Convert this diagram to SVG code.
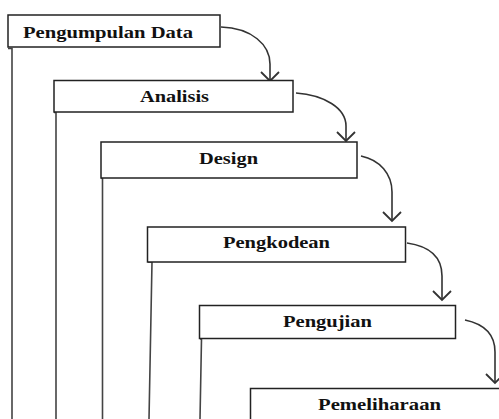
<svg xmlns="http://www.w3.org/2000/svg" width="499" height="419" viewBox="0 0 499 419">
<defs>
<style>
.box{fill:#fff;stroke:#222;stroke-width:1.5}
.lbl{font-family:"Liberation Serif","Times New Roman",serif;font-weight:bold;font-size:17px;fill:#111}
.rail{fill:none;stroke:#444;stroke-width:1.6}
.arr{fill:none;stroke:#333;stroke-width:1.6}
</style>
<marker id="ah" viewBox="0 0 20 20" refX="10" refY="10" markerWidth="20" markerHeight="20" markerUnits="userSpaceOnUse" orient="auto">
<path d="M1,1 L10,10 L1,19" fill="none" stroke="#333" stroke-width="1.8"/>
</marker>
</defs>
<g id="connectors">
<path class="rail" d="M8,48.5 H12 V419"/>
<path class="rail" d="M54,112.5 H56 V419"/>
<path class="rail" d="M101,178 H102.5 V419"/>
<path class="rail" d="M148,262 H152 L149,419"/>
<path class="rail" d="M200,339 H201.5 L200,419"/>
<path class="arr" d="M221,27 C252,28 270,45 270,64 L270,81" marker-end="url(#ah)"/>
<path class="arr" d="M296,93 C324,95 346,108 346,126 L346,141" marker-end="url(#ah)"/>
<path class="arr" d="M361,156 C380,160 392,174 392,192 L392,221" marker-end="url(#ah)"/>
<path class="arr" d="M407,243 C428,246 442,256 442,276 L442,300" marker-end="url(#ah)"/>
<path class="arr" d="M465,320 C484,324 495,334 495,352 L495,383" marker-end="url(#ah)"/>
</g>
<g id="n1"><rect class="box" x="8" y="15" width="212" height="32"/><text class="lbl" x="23" y="37.5" textLength="170" lengthAdjust="spacingAndGlyphs">Pengumpulan Data</text></g>
<g id="n2"><rect class="box" x="54" y="80.5" width="239" height="31.5"/><text class="lbl" x="140" y="102" textLength="69" lengthAdjust="spacingAndGlyphs">Analisis</text></g>
<g id="n3"><rect class="box" x="101" y="142" width="256" height="36"/><text class="lbl" x="199" y="164" textLength="59" lengthAdjust="spacingAndGlyphs">Design</text></g>
<g id="n4"><rect class="box" x="147.5" y="227" width="258" height="35"/><text class="lbl" x="223" y="247.5" textLength="107" lengthAdjust="spacingAndGlyphs">Pengkodean</text></g>
<g id="n5"><rect class="box" x="199.5" y="305.5" width="256" height="33"/><text class="lbl" x="283" y="327" textLength="89" lengthAdjust="spacingAndGlyphs">Pengujian</text></g>
<g id="n6"><rect class="box" x="250.5" y="388.5" width="260" height="40"/><text class="lbl" x="318" y="410" textLength="123" lengthAdjust="spacingAndGlyphs">Pemeliharaan</text></g>
</svg>
